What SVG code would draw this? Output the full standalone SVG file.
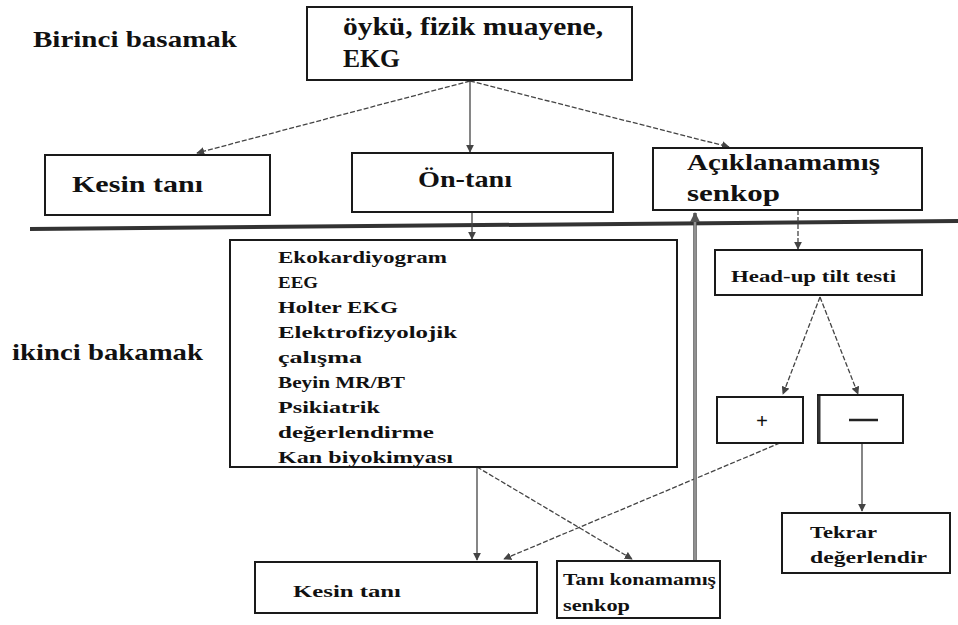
<svg xmlns="http://www.w3.org/2000/svg" width="958" height="625" viewBox="0 0 958 625">
<style>
.box{fill:#fff;stroke:#1a1a1a;stroke-width:2}
.t{font-family:"Liberation Serif","DejaVu Serif",serif;font-weight:bold;fill:#111}
.c{fill:none;stroke:#444;stroke-width:1.3}
.d{stroke-dasharray:5 2}
</style>
<defs>
<marker id="ah" viewBox="0 0 10 10" refX="9" refY="5" markerWidth="8" markerHeight="8" markerUnits="userSpaceOnUse" orient="auto">
<path d="M0,0 L10,5 L0,10 z" fill="#444"/>
</marker>
<marker id="ahb" viewBox="0 0 10 10" refX="9" refY="5" markerWidth="10" markerHeight="10" markerUnits="userSpaceOnUse" orient="auto">
<path d="M0,0 L10,5 L0,10 z" fill="#555"/>
</marker>
</defs>
<rect width="958" height="625" fill="#fff"/>

<g id="labels">
<text class="t" x="33" y="47" font-size="23" textLength="204" lengthAdjust="spacingAndGlyphs">Birinci basamak</text>
<text class="t" x="12" y="360" font-size="23" textLength="191" lengthAdjust="spacingAndGlyphs">ikinci bakamak</text>
</g>

<line x1="30" y1="229" x2="958" y2="221" stroke="#333" stroke-width="4"/>

<g id="connectors">
<line class="c d" x1="470" y1="81" x2="197" y2="153" marker-end="url(#ah)"/>
<line class="c" x1="470" y1="81" x2="470" y2="152" marker-end="url(#ah)"/>
<line class="c d" x1="470" y1="81" x2="729" y2="147" marker-end="url(#ah)"/>
<line class="c" x1="472" y1="212" x2="472" y2="239" marker-end="url(#ah)"/>
<line class="c d" x1="798" y1="210" x2="798" y2="249" marker-end="url(#ah)"/>
<line class="c d" x1="820" y1="297" x2="783" y2="394" marker-end="url(#ah)"/>
<line class="c d" x1="820" y1="297" x2="858" y2="394" marker-end="url(#ah)"/>
<line class="c" x1="862" y1="443" x2="862" y2="511" marker-end="url(#ah)"/>
<line class="c d" x1="780" y1="443" x2="504" y2="559" marker-end="url(#ah)"/>
<line class="c" x1="477" y1="467" x2="477" y2="560" marker-end="url(#ah)"/>
<line class="c d" x1="477" y1="467" x2="632" y2="559" marker-end="url(#ah)"/>
<line x1="695" y1="560" x2="695" y2="213" stroke="#555" stroke-width="3.5" marker-end="url(#ahb)"/>
<line x1="695" y1="560" x2="695" y2="222" stroke="#ccc" stroke-width="1"/>
</g>

<g id="n-top">
<rect class="box" x="307" y="7" width="325" height="73"/>
<text class="t" x="343" y="35" font-size="25" textLength="260" lengthAdjust="spacingAndGlyphs">öykü, fizik muayene,</text>
<text class="t" x="343" y="67" font-size="25" textLength="57" lengthAdjust="spacingAndGlyphs">EKG</text>
</g>

<g id="n-kesin1">
<rect class="box" x="45" y="155" width="225" height="60"/>
<text class="t" x="72" y="192" font-size="23" textLength="131" lengthAdjust="spacingAndGlyphs">Kesin tanı</text>
</g>

<g id="n-ontani">
<rect class="box" x="352" y="153" width="261" height="59"/>
<text class="t" x="418" y="187" font-size="23" textLength="94" lengthAdjust="spacingAndGlyphs">Ön-tanı</text>
</g>

<g id="n-aciklanamamis">
<rect class="box" x="653" y="148" width="269" height="62"/>
<text class="t" x="687" y="170" font-size="23" textLength="193" lengthAdjust="spacingAndGlyphs">Açıklanamamış</text>
<text class="t" x="687" y="201" font-size="23" textLength="93" lengthAdjust="spacingAndGlyphs">senkop</text>
</g>

<g id="n-tests">
<rect class="box" x="230" y="240" width="447" height="227"/>
<g class="t" font-size="17">
<text x="278" y="263" textLength="169" lengthAdjust="spacingAndGlyphs">Ekokardiyogram</text>
<text x="278" y="288" textLength="40" lengthAdjust="spacingAndGlyphs">EEG</text>
<text x="278" y="313" textLength="120" lengthAdjust="spacingAndGlyphs">Holter EKG</text>
<text x="278" y="338" textLength="179" lengthAdjust="spacingAndGlyphs">Elektrofizyolojik</text>
<text x="278" y="363" textLength="84" lengthAdjust="spacingAndGlyphs">çalışma</text>
<text x="278" y="388" textLength="127" lengthAdjust="spacingAndGlyphs">Beyin MR/BT</text>
<text x="278" y="413" textLength="102" lengthAdjust="spacingAndGlyphs">Psikiatrik</text>
<text x="278" y="438" textLength="156" lengthAdjust="spacingAndGlyphs">değerlendirme</text>
<text x="278" y="463" textLength="175" lengthAdjust="spacingAndGlyphs">Kan biyokimyası</text>
</g>
</g>

<g id="n-headup">
<rect class="box" x="715" y="250" width="207" height="45"/>
<text class="t" x="731" y="282" font-size="17" textLength="165" lengthAdjust="spacingAndGlyphs">Head-up tilt testi</text>
</g>

<g id="n-plus">
<rect class="box" x="717" y="397" width="86" height="46"/>
<text class="t" x="762" y="428" font-size="21" text-anchor="middle" font-weight="normal">+</text>
</g>

<g id="n-minus">
<rect class="box" x="818" y="395" width="85" height="48"/>
<line x1="819" y1="396" x2="819" y2="442" stroke="#333" stroke-width="3"/>
<line x1="849" y1="420" x2="878" y2="420" stroke="#222" stroke-width="2.5"/>
</g>

<g id="n-tekrar">
<rect class="box" x="782" y="513" width="168" height="60"/>
<text class="t" x="810" y="538" font-size="17" textLength="67" lengthAdjust="spacingAndGlyphs">Tekrar</text>
<text class="t" x="810" y="563" font-size="17" textLength="117" lengthAdjust="spacingAndGlyphs">değerlendir</text>
</g>

<g id="n-kesin2">
<rect class="box" x="255" y="562" width="282" height="51"/>
<text class="t" x="293" y="597" font-size="16" textLength="108" lengthAdjust="spacingAndGlyphs">Kesin tanı</text>
</g>

<g id="n-tanikonamamis">
<rect class="box" x="557" y="561" width="163" height="57"/>
<text class="t" x="563" y="585" font-size="16" textLength="153" lengthAdjust="spacingAndGlyphs">Tanı konamamış</text>
<text class="t" x="563" y="611" font-size="16" textLength="67" lengthAdjust="spacingAndGlyphs">senkop</text>
</g>
</svg>
